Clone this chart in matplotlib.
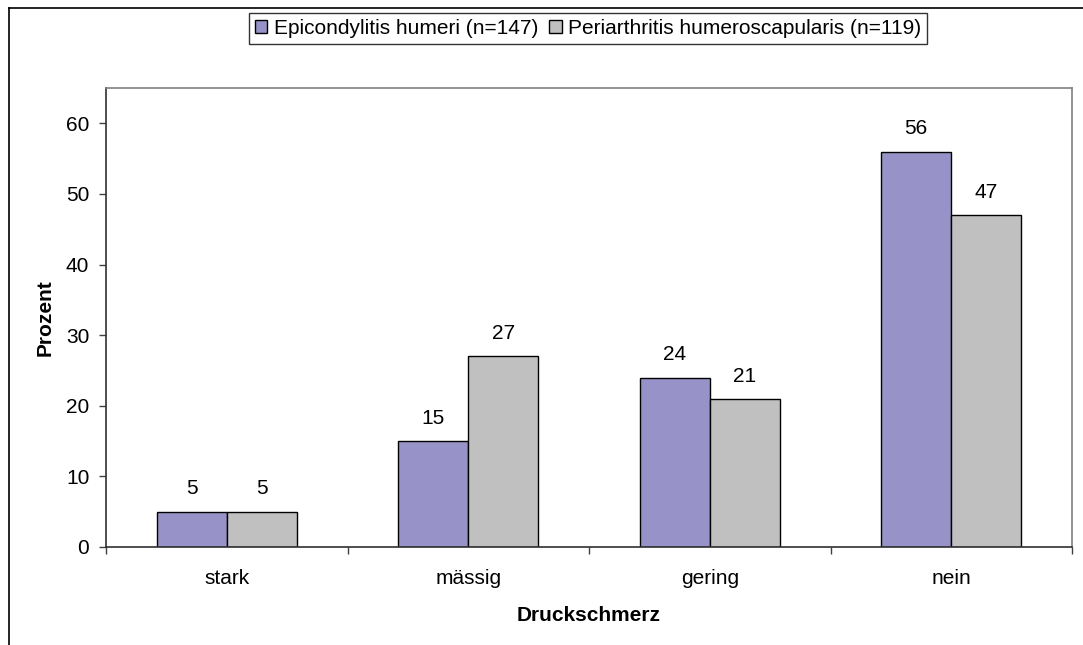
import matplotlib
matplotlib.use("Agg")
import matplotlib.pyplot as plt
from matplotlib.lines import Line2D
import numpy as np

categories = ["stark", "mässig", "gering", "nein"]
series_names = ["Epicondylitis humeri (n=147)", "Periarthritis humeroscapularis (n=119)"]
epicondylitis = [5, 15, 24, 56]
periarthritis = [5, 27, 21, 47]
yticks = [0, 10, 20, 30, 40, 50, 60]

plt.rcParams['font.family'] = ['Liberation Sans', 'DejaVu Sans']
FS = 15

fig = plt.figure(figsize=(10.83, 6.45), dpi=100)
ax = fig.add_axes([106/1083, 1-547/645, (1072-106)/1083, (547-88)/645])

x = np.arange(len(categories))
w = 0.29
colors = ["#9793C8", "#C0C0C0"]
b1 = ax.bar(x - w/2, epicondylitis, w, color=colors[0], edgecolor="black", linewidth=1.0, label=series_names[0])
b2 = ax.bar(x + w/2, periarthritis, w, color=colors[1], edgecolor="black", linewidth=1.0, label=series_names[1])

for bars, vals in ((b1, epicondylitis), (b2, periarthritis)):
    for r, v in zip(bars, vals):
        ax.annotate(f"{v}", (r.get_x() + r.get_width()/2, v), xytext=(0, 9.5),
                    textcoords="offset points", ha="center", va="bottom", fontsize=FS)

ax.set_xlim(-0.5, len(categories) - 0.5)
ax.set_ylim(0, 65)
ax.set_yticks(yticks)
ax.set_xticks(x)
ax.set_xticklabels(categories)
ax.set_xticks(np.arange(-0.5, len(categories) + 0.5, 1), minor=True)
ax.tick_params(axis="x", which="major", length=0, pad=15.5, labelsize=FS)
ax.tick_params(axis="x", which="minor", length=5, width=1, color="#404040", direction="out")
ax.tick_params(axis="y", length=5, width=1, color="#404040", pad=7, labelsize=FS)

ax.set_ylabel("Prozent", fontsize=FS, fontweight="bold", labelpad=8)
ax.set_xlabel("Druckschmerz", fontsize=FS, fontweight="bold", labelpad=13)

for s in ("top", "right"):
    ax.spines[s].set_color("#808080")
    ax.spines[s].set_linewidth(1.2)
for s in ("left", "bottom"):
    ax.spines[s].set_color("#303030")
    ax.spines[s].set_linewidth(1.2)

leg = fig.legend(handles=[b1, b2], labels=series_names, loc="center", bbox_to_anchor=(588/1083, 1-28.5/645),
                 ncol=2, fontsize=FS, frameon=True, fancybox=False, edgecolor="black",
                 handlelength=0.6, handleheight=0.6, handletextpad=0.3, columnspacing=0.55,
                 borderpad=0.3, borderaxespad=0)
leg.get_frame().set_linewidth(1.0)

# figure border (left and top)
fig.add_artist(Line2D([9/1083, 9/1083], [0, 1-8/645], color="black", lw=1.2, transform=fig.transFigure))
fig.add_artist(Line2D([9/1083, 1], [1-8/645, 1-8/645], color="black", lw=1.2, transform=fig.transFigure))

fig.savefig("out.png", dpi=100)
